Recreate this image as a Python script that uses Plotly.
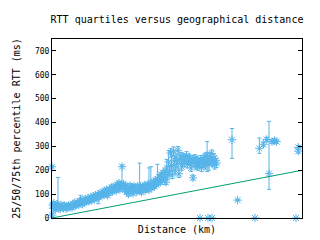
import numpy as np
import plotly.graph_objects as go

# ---- data ----
distance_km = [
    0, 20, 60, 110, 150, 200, 260, 310, 370, 420,
    480, 540, 600, 660, 720, 790, 850, 920, 980, 1050,
    1120, 1180, 1250, 1320, 1390, 1450, 1520, 1600, 1680, 1750,
    1830, 1900, 1980, 2050, 2130, 2200, 2280, 2350, 2430, 2500,
    2580, 2650, 2730, 2800, 2880, 2950, 3030, 3100, 3180, 3250,
    3330, 3400, 3480, 3550, 3630, 3700, 3780, 3850, 3930, 4000,
    4080, 4150, 4230, 4300, 4380, 4450, 4530, 4600, 4680, 4750,
    4830, 4900, 4980, 5060, 5130, 5210, 5280, 5360, 5430, 5510,
    5600, 5660, 5730, 5810, 5880, 5960, 6030, 6110, 6180, 6260,
    6330, 6410, 6480, 6560, 6630, 6710, 6780, 6860, 6930, 7010,
    7080, 7160, 7230, 7310, 7380, 7460, 7530, 7610, 7680, 7760,
    7830, 7910, 7980, 8060, 8130, 8210, 8280, 8360, 8430, 8510,
    8580, 8660, 8730, 8810, 8880, 8960, 9030, 9110, 9180, 9260,
    9330, 9410, 9480, 9560, 9630, 9710, 9780, 9860, 9930, 10010,
    10080, 10160, 10230, 10310, 10380, 10460, 10530, 10610, 10680, 10760,
    10830, 10910, 10980, 11060, 11130, 11210, 11280, 11360, 11430, 11510,
    11580, 11660, 11730, 11810, 11880, 11960, 12030, 12110, 12180, 12260,
    12330, 12410, 12480, 12560, 12630, 12710, 12780, 12860, 12930, 13010,
    13080, 13160, 11840, 12480, 12800, 14400, 14850, 16240, 16590, 16910,
    17170, 17360, 17600, 17800, 17970, 19520, 19700, 19700,
]
rtt_median = [
    215, 12, 55, 40, 62, 48, 35, 52, 44, 58,
    50, 42, 47, 38, 55, 45, 50, 41, 53, 46,
    39, 48, 44, 52, 47, 50, 52, 44, 60, 50,
    64, 53, 58, 66, 56, 70, 62, 72, 58, 75,
    66, 80, 68, 72, 84, 70, 78, 88, 74, 82,
    92, 78, 96, 84, 90, 100, 86, 104, 94, 98,
    110, 96, 114, 104, 118, 95, 108, 122, 112, 128,
    110, 130, 120, 132, 115, 140, 124, 146, 120, 138,
    215, 128, 142, 118, 135, 110, 130, 100, 124, 136,
    112, 128, 104, 132, 118, 125, 110, 134, 120, 114,
    132, 108, 128, 122, 138, 116, 132, 124, 142, 118,
    136, 146, 126, 140, 152, 132, 158, 140, 162, 146,
    170, 150, 182, 158, 190, 165, 185, 150, 210, 175,
    235, 195, 272, 220, 180, 280, 240, 200, 250, 225,
    284, 185, 245, 260, 215, 238, 255, 230, 248, 262,
    225, 240, 252, 236, 210, 245, 168, 232, 250, 222,
    240, 215, 235, 228, 245, 210, 238, 230, 252, 220,
    260, 235, 245, 225, 258, 240, 270, 232, 250, 222,
    242, 230, 0, 0, 0, 328, 75, 0, 292, 309,
    329, 186, 320, 324, 320, 0, 296, 280,
]
rtt_q25 = [
    210, 6, 48, 34, 55, 42, 30, 45, 38, 50,
    42, 36, 41, 33, 48, 39, 44, 35, 47, 40,
    34, 42, 38, 46, 41, 44, 45, 37, 53, 43,
    57, 46, 51, 59, 49, 63, 55, 65, 51, 68,
    59, 73, 61, 65, 77, 63, 71, 81, 67, 75,
    85, 71, 89, 77, 83, 60, 79, 97, 87, 91,
    103, 89, 107, 97, 111, 88, 101, 115, 105, 121,
    103, 123, 113, 124, 107, 132, 116, 138, 112, 130,
    150, 120, 134, 110, 127, 102, 122, 92, 116, 128,
    104, 120, 96, 124, 110, 117, 102, 126, 112, 106,
    124, 100, 120, 114, 130, 108, 124, 116, 134, 110,
    128, 138, 118, 132, 144, 124, 150, 132, 154, 138,
    162, 142, 174, 150, 182, 157, 170, 140, 190, 160,
    215, 180, 255, 205, 165, 262, 225, 185, 232, 210,
    268, 170, 228, 245, 200, 222, 240, 215, 232, 248,
    210, 225, 236, 220, 195, 228, 160, 215, 235, 205,
    222, 200, 218, 212, 228, 195, 222, 212, 236, 205,
    243, 195, 228, 200, 240, 222, 252, 215, 232, 205,
    225, 212, 0, 0, 0, 250, 72, 0, 271, 300,
    320, 120, 312, 316, 313, 0, 288, 272,
]
rtt_q75 = [
    220, 18, 62, 48, 68, 55, 42, 58, 50, 64,
    170, 48, 53, 44, 60, 51, 56, 47, 59, 52,
    45, 54, 50, 58, 53, 56, 59, 51, 67, 57,
    71, 60, 65, 73, 63, 77, 95, 79, 65, 82,
    73, 87, 75, 79, 91, 77, 85, 95, 81, 89,
    99, 85, 103, 91, 97, 107, 93, 111, 101, 105,
    117, 103, 121, 111, 125, 102, 115, 129, 119, 135,
    117, 137, 127, 140, 123, 148, 132, 154, 128, 146,
    222, 136, 150, 126, 143, 118, 138, 108, 132, 144,
    120, 136, 112, 140, 126, 133, 118, 142, 128, 230,
    140, 116, 136, 130, 146, 124, 140, 132, 150, 210,
    144, 215, 134, 148, 160, 140, 166, 148, 225, 154,
    178, 158, 190, 166, 198, 173, 205, 200, 245, 190,
    282, 215, 290, 280, 200, 298, 258, 215, 268, 240,
    300, 205, 262, 275, 230, 255, 270, 248, 265, 278,
    242, 258, 268, 252, 228, 262, 180, 250, 265, 240,
    258, 232, 252, 245, 262, 228, 255, 248, 268, 236,
    275, 320, 262, 242, 275, 258, 285, 250, 268, 240,
    260, 248, 0, 0, 0, 375, 78, 0, 335, 318,
    338, 405, 328, 332, 327, 0, 304, 288,
]

# theoretical minimum RTT (speed of light in fibre) line
line_km = [0, 20000]
line_ms = [0, 200]

x_range = [0, 20000]
y_range = [0, 750]
y_ticks = [0, 100, 200, 300, 400, 500, 600, 700]

BLUE = "#56B4E9"
GREEN = "#009E73"
FONT = "DejaVu Sans Mono"

med = np.array(rtt_median, dtype=float)
err_plus = np.array(rtt_q75, dtype=float) - med
err_minus = med - np.array(rtt_q25, dtype=float)

fig = go.Figure()
fig.add_trace(go.Scatter(
    x=distance_km, y=rtt_median, mode="markers",
    marker=dict(symbol="asterisk-open", size=7, color=BLUE,
                line=dict(color=BLUE, width=1)),
    error_y=dict(type="data", symmetric=False, array=err_plus,
                 arrayminus=err_minus, color=BLUE, thickness=1, width=2),
    cliponaxis=False, showlegend=False,
))
fig.add_trace(go.Scatter(
    x=line_km, y=line_ms, mode="lines",
    line=dict(color=GREEN, width=1), showlegend=False,
))

fig.update_layout(
    width=320, height=240,
    margin=dict(l=52, r=18, t=39, b=22),
    paper_bgcolor="white", plot_bgcolor="white",
    font=dict(family=FONT, size=10, color="black"),
    title=dict(text="RTT quartiles versus geographical distance",
               x=0.5, xref="paper", xanchor="center",
               y=1 - 19 / 240, yref="container", yanchor="middle",
               font=dict(family=FONT, size=10, color="black")),
)
fig.update_xaxes(
    range=x_range, showgrid=False, zeroline=False, automargin=False,
    showline=True, linecolor="black", linewidth=1, mirror=True,
    ticks="", showticklabels=False,
    title=dict(text="Distance (km)", standoff=7,
               font=dict(family=FONT, size=10, color="black")),
)
fig.update_yaxes(
    range=y_range, tickvals=y_ticks, showgrid=False, zeroline=False,
    automargin=False,
    showline=True, linecolor="black", linewidth=1, mirror="ticks",
    ticks="inside", ticklen=4, tickcolor="black",
    tickfont=dict(family=FONT, size=8, color="black"),
    title=dict(text="25/50/75th percentile RTT (ms)", standoff=12,
               font=dict(family=FONT, size=10, color="black")),
)

fig.write_html("out.html")
